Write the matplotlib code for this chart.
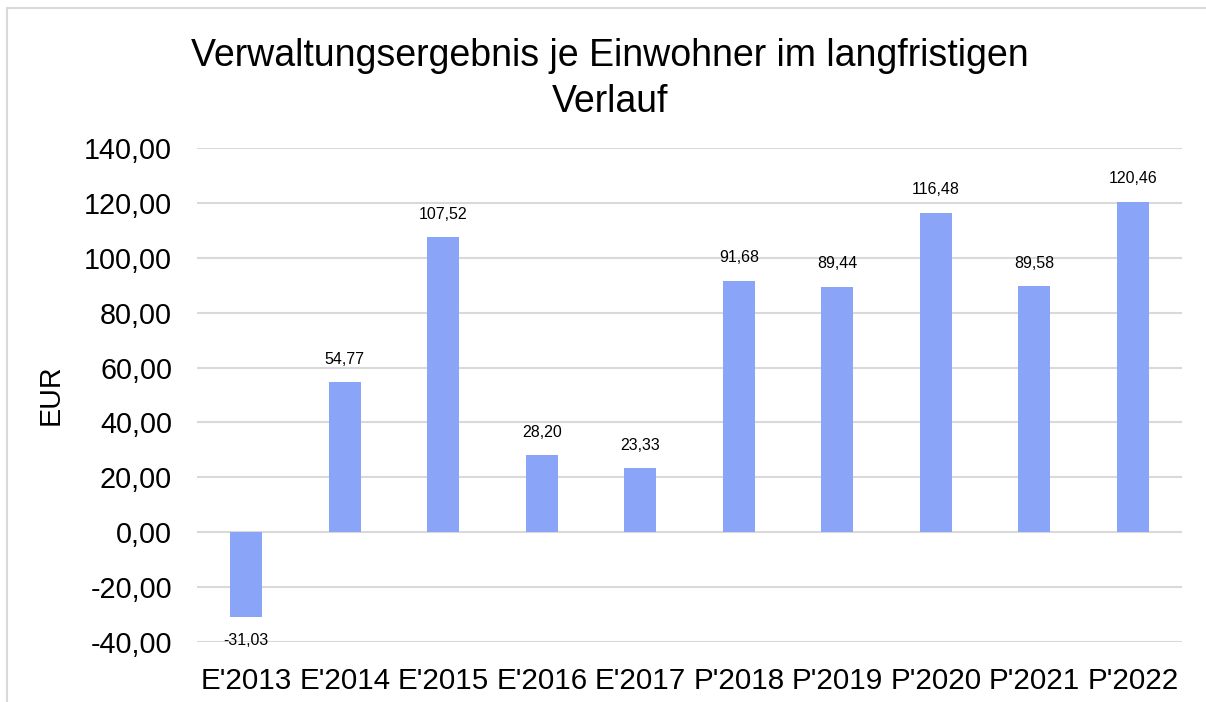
import matplotlib
matplotlib.use("Agg")
import matplotlib.pyplot as plt
from matplotlib.patches import Rectangle

plt.rcParams['font.family'] = ['Liberation Sans', 'DejaVu Sans']

categories = ["E'2013", "E'2014", "E'2015", "E'2016", "E'2017",
              "P'2018", "P'2019", "P'2020", "P'2021", "P'2022"]
values = [-31.03, 54.77, 107.52, 28.20, 23.33, 91.68, 89.44, 116.48, 89.58, 120.46]
yticks = [-40, -20, 0, 20, 40, 60, 80, 100, 120, 140]

def de(v):
    return f"{v:,.2f}".replace(",", "X").replace(".", ",").replace("X", ".")

fig = plt.figure(figsize=(12.06, 7.02), dpi=100)
fig.patches.append(Rectangle((7/1206, -0.1), 1.2, 1 - 8/702 + 0.1, transform=fig.transFigure,
                             fill=False, edgecolor='#d9d9d9', linewidth=1.5))
ax = fig.add_axes([197/1206, 1 - 642/702, (1182 - 197)/1206, (642 - 148)/702])

x = list(range(len(categories)))
ax.bar(x, values, width=0.325, color='#8aa4f8', zorder=3)
ax.set_xlim(-0.5, len(categories) - 0.5)
ax.set_ylim(-40, 140)
ax.set_yticks(yticks)
ax.set_yticklabels([de(t) for t in yticks])
ax.set_xticks(x)
ax.set_xticklabels(categories)
ax.tick_params(axis='y', length=0, labelsize=20.7, colors='black', pad=18)
ax.tick_params(axis='x', length=0, labelsize=21.3, colors='black', pad=18)
ax.grid(axis='y', color='#d9d9d9', linewidth=1.5, zorder=0)
for s in ax.spines.values():
    s.set_visible(False)

for xi, v in zip(x, values):
    if v >= 0:
        ax.annotate(de(v), (xi, v), xytext=(0, 11), textcoords='offset points',
                    ha='center', va='bottom', fontsize=11.5)
    else:
        ax.annotate(de(v), (xi, v), xytext=(0, -11), textcoords='offset points',
                    ha='center', va='top', fontsize=11.5)

ax.set_ylabel("EUR", fontsize=20.7, labelpad=14)
fig.text(610/1206, 1 - 79/702, "Verwaltungsergebnis je Einwohner im langfristigen\nVerlauf",
         ha='center', va='center', fontsize=27, linespacing=1.38)

fig.savefig("out.png", dpi=100)
